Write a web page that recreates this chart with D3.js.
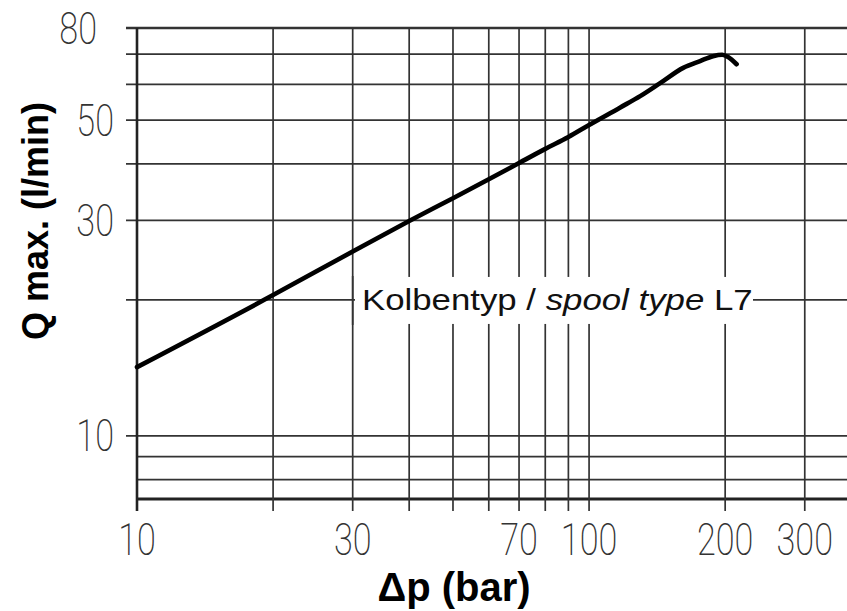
<!DOCTYPE html>
<html><head><meta charset="utf-8">
<script src="https://cdn.jsdelivr.net/npm/d3@7"></script>
<style>body{margin:0;background:#fff} svg{display:block}</style>
</head><body>
<svg id="c" width="847" height="611"></svg>
<script>
// ---- data ----
const pressureBar = [10, 20, 30, 40, 50, 60, 70, 80, 90, 100, 117, 130, 143.6, 161.5, 176, 188, 197, 203, 212];
const flowLpm     = [14.2, 20.5, 25.6, 29.9, 33.6, 37.0, 40.2, 43.2, 45.9, 48.8, 53.3, 56.6, 60.4, 65.3, 67.6, 69.3, 69.8, 69.0, 66.5];
const xGridValues = [10, 20, 30, 40, 50, 60, 70, 80, 90, 100, 200, 300];
const yGridValues = [8, 9, 10, 20, 30, 40, 50, 60, 70, 80];
const xTickLabels = [10, 30, 70, 100, 200, 300];
const yTickLabels = [10, 30, 50, 80];
const xDomain = [10, 372];
const yDomain = [7.25, 80];
const curveLabel = ["Kolbentyp / ", "spool type", " L7"];
const xTitle = "Δp (bar)";
const yTitle = "Q max. (l/min)";

(function () {
const svg = d3.select("#c");
const W = 847, plotLeft = 137, plotTop = 28, plotBottom = 499;
const x = d3.scaleLog().domain(xDomain).range([plotLeft, W]);
const y = d3.scaleLog().domain(yDomain).range([plotBottom, plotTop]);

const grid = svg.append("g");
grid.selectAll("line.h").data(yGridValues).join("line")
  .attr("x1", d => (d >= 10 ? plotLeft - 11 : plotLeft)).attr("x2", W)
  .attr("y1", d => y(d)).attr("y2", d => y(d))
  .attr("stroke", "#333").attr("stroke-width", d => d === 80 ? 2.6 : 1.7);
grid.append("line").attr("x1", plotLeft).attr("x2", W)
  .attr("y1", y(yDomain[0])).attr("y2", y(yDomain[0]))
  .attr("stroke", "#222").attr("stroke-width", 2.8);
grid.selectAll("line.v").data(xGridValues).join("line")
  .attr("x1", d => x(d)).attr("x2", d => x(d))
  .attr("y1", plotTop).attr("y2", plotBottom + 12)
  .attr("stroke", d => d === 10 ? "#222" : "#333")
  .attr("stroke-width", d => d === 10 ? 2.6 : 1.7);

const line = d3.line().x(d => x(d[0])).y(d => y(d[1])).curve(d3.curveMonotoneX);
svg.append("path").datum(d3.zip(pressureBar, flowLpm))
  .attr("d", line).attr("fill", "none").attr("stroke", "#000")
  .attr("stroke-width", 4.6).attr("stroke-linecap", "round").attr("stroke-linejoin", "round");

const tickFont = "Roboto, 'DejaVu Sans', sans-serif";
const sx = 0.76;
svg.selectAll("g.xl").data(xTickLabels).join("g")
  .attr("transform", d => `translate(${x(d)},555)`)
  .append("text").attr("transform", `scale(${sx},1)`)
  .attr("text-anchor", "middle").attr("font-family", tickFont).attr("font-weight", 200)
  .attr("font-size", 45).attr("fill", "#333").text(d => d);
svg.selectAll("g.yl").data(yTickLabels).join("g")
  .attr("transform", d => `translate(${d === yDomain[1] ? 97 : 114},${y(d) + 15.5})`)
  .append("text").attr("transform", `scale(${sx},1)`)
  .attr("text-anchor", "end").attr("font-family", tickFont).attr("font-weight", 200)
  .attr("font-size", 45).attr("fill", "#333").text(d => d);

const yl = y(20);
svg.append("rect").attr("x", 355).attr("y", yl - 23).attr("width", 398).attr("height", 47).attr("fill", "#fff");
svg.append("line").attr("x1", x(30)).attr("x2", x(30)).attr("y1", yl - 24).attr("y2", yl + 25)
  .attr("stroke", "#333").attr("stroke-width", 1.7);
const lab = svg.append("g").attr("transform", `translate(362,${yl + 10})`)
  .append("text").attr("transform", "scale(1.16,1)")
  .attr("font-family", "'Liberation Sans', Arial, sans-serif").attr("font-size", 30).attr("fill", "#111");
lab.selectAll("tspan").data(curveLabel).join("tspan")
  .attr("font-style", (d, i) => i === 1 ? "italic" : "normal").text(d => d);

svg.append("text").attr("x", 454).attr("y", 601).attr("text-anchor", "middle")
  .attr("font-family", "'Liberation Sans', Arial, sans-serif").attr("font-weight", "bold")
  .attr("font-size", 40).attr("fill", "#000").text(xTitle);
svg.append("text").attr("transform", "translate(48,221) rotate(-90)").attr("text-anchor", "middle")
  .attr("font-family", "'Liberation Sans', Arial, sans-serif").attr("font-weight", "bold")
  .attr("font-size", 36).attr("fill", "#000").text(yTitle);
})();
</script>
</body></html>
